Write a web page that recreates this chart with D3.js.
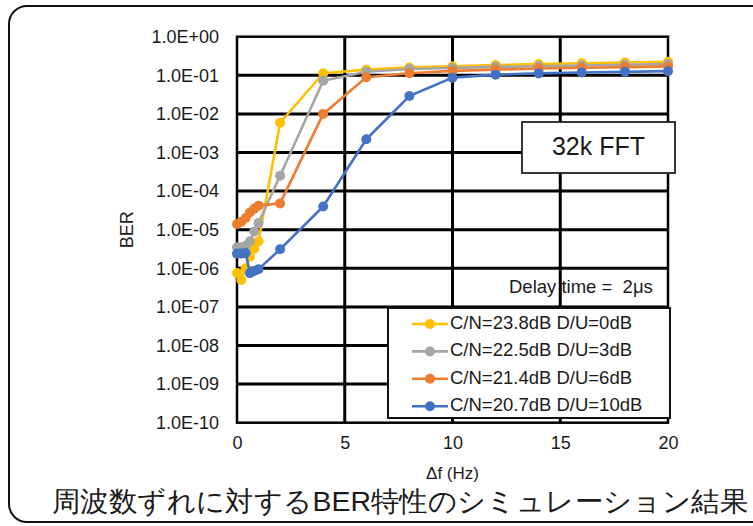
<!DOCTYPE html>
<html>
<head>
<meta charset="utf-8">
<script src="https://cdn.jsdelivr.net/npm/d3@7"></script>
<style>
  html, body { margin: 0; padding: 0; background: #fff; }
  svg { display: block; }
  text { font-family: "Liberation Sans", Arial, sans-serif; fill: #1a1a1a; white-space: pre; }
</style>
</head>
<body>
<svg id="chart" width="753" height="526"></svg>
<script>
// ---- data ----
const deltaF = [0, 0.2, 0.4, 0.6, 0.8, 1, 2, 4, 6, 8, 10, 12, 14, 16, 18, 20];
const berCN238 = [7.5e-7, 5e-7, 1e-6, 2e-6, 3.2e-6, 5e-6, 5.9e-3, 0.113, 0.14, 0.16, 0.172, 0.185, 0.195, 0.205, 0.215, 0.225];
const berCN225 = [3.5e-6, 3.5e-6, 3.8e-6, 5e-6, 9e-6, 1.5e-5, 2.5e-4, 0.072, 0.124, 0.146, 0.155, 0.165, 0.172, 0.18, 0.188, 0.196];
const berCN214 = [1.4e-5, 1.6e-5, 2e-5, 2.8e-5, 3.5e-5, 4.2e-5, 4.8e-5, 1e-2, 0.089, 0.113, 0.13, 0.14, 0.15, 0.157, 0.163, 0.17];
const berCN207 = [2.4e-6, 2.4e-6, 2.5e-6, 7.5e-7, 8.5e-7, 9.5e-7, 3.1e-6, 4e-5, 2.2e-3, 0.029, 0.087, 0.104, 0.112, 0.118, 0.123, 0.128];
const seriesNames = ["C/N=23.8dB D/U=0dB", "C/N=22.5dB D/U=3dB", "C/N=21.4dB D/U=6dB", "C/N=20.7dB D/U=10dB"];
const seriesColors = ["#FFC000", "#A5A5A5", "#ED7D31", "#4472C4"];
const xTicks = [0, 5, 10, 15, 20];
const yTicks = [1e0, 1e-1, 1e-2, 1e-3, 1e-4, 1e-5, 1e-6, 1e-7, 1e-8, 1e-9, 1e-10];
const yTickLabels = ["1.0E+00", "1.0E-01", "1.0E-02", "1.0E-03", "1.0E-04", "1.0E-05", "1.0E-06", "1.0E-07", "1.0E-08", "1.0E-09", "1.0E-10"];
const xLabel = "Δf (Hz)";
const yLabel = "BER";
const fftNote = "32k FFT";
const delayNote = "Delay time =  2μs";
const titleText = "周波数ずれに対するBER特性のシミュレーション結果";

const seriesValues = [berCN238, berCN225, berCN214, berCN207];

// ---- layout ----
const svg = d3.select("#chart");
const plot = { left: 237, right: 668, top: 36.7, bottom: 422.7 };

const x = d3.scaleLinear().domain([0, 20]).range([plot.left, plot.right]);
const y = d3.scaleLog().domain([1e-10, 1]).range([plot.bottom, plot.top]);

// outer rounded frame
svg.append("rect")
  .attr("x", 9).attr("y", 6).attr("width", 780).attr("height", 516)
  .attr("rx", 18).attr("ry", 18)
  .attr("fill", "none").attr("stroke", "#111").attr("stroke-width", 2);

// gridlines
const grid = svg.append("g");
grid.selectAll("line.h").data(yTicks.slice(1, -1)).join("line")
  .attr("x1", plot.left).attr("x2", plot.right)
  .attr("y1", d => y(d)).attr("y2", d => y(d))
  .attr("stroke", "#000").attr("stroke-width", 3);
grid.selectAll("line.v").data(xTicks.slice(1, -1)).join("line")
  .attr("y1", plot.top).attr("y2", plot.bottom)
  .attr("x1", d => x(d)).attr("x2", d => x(d))
  .attr("stroke", "#000").attr("stroke-width", 3);

// plot border
svg.append("rect")
  .attr("x", plot.left).attr("y", plot.top)
  .attr("width", plot.right - plot.left).attr("height", plot.bottom - plot.top)
  .attr("fill", "none").attr("stroke", "#000").attr("stroke-width", 2.5);

// axes (labels only; Excel style has no tick marks)
const yAxis = d3.axisLeft(y).tickValues(yTicks)
  .tickFormat((d, i) => yTickLabels[i]).tickSize(0).tickPadding(0);
const yg = svg.append("g").attr("transform", `translate(${plot.left - 18},0)`).call(yAxis);
yg.select(".domain").remove();
yg.selectAll("text").attr("font-size", 18).attr("fill", "#1a1a1a")
  .attr("font-family", "Liberation Sans, Arial, sans-serif");

const xAxis = d3.axisBottom(x).tickValues(xTicks).tickSize(0).tickPadding(0).tickFormat(d3.format("d"));
const xg = svg.append("g").attr("transform", `translate(0,${plot.bottom + 14})`).call(xAxis);
xg.select(".domain").remove();
xg.selectAll("text").attr("font-size", 18).attr("fill", "#1a1a1a")
  .attr("font-family", "Liberation Sans, Arial, sans-serif");

// axis titles
svg.append("text").attr("x", x(10)).attr("y", 475)
  .attr("text-anchor", "middle").attr("dominant-baseline", "middle")
  .attr("font-size", 17).text(xLabel);
svg.append("text")
  .attr("transform", `translate(128,${y(1e-5)}) rotate(-90)`)
  .attr("text-anchor", "middle").attr("dominant-baseline", "middle")
  .attr("font-size", 18).text(yLabel);

// series
const line = d3.line().x(d => x(d[0])).y(d => y(d[1]));
seriesValues.forEach((vals, i) => {
  const pts = deltaF.map((f, j) => [f, vals[j]]);
  const g = svg.append("g");
  g.append("path").datum(pts).attr("d", line)
    .attr("fill", "none").attr("stroke", seriesColors[i]).attr("stroke-width", 2.6)
    .attr("stroke-linejoin", "round");
  g.selectAll("circle").data(pts).join("circle")
    .attr("cx", d => x(d[0])).attr("cy", d => y(d[1])).attr("r", 5)
    .attr("fill", seriesColors[i]);
});

// 32k FFT box
svg.append("rect").attr("x", 522).attr("y", 122).attr("width", 153).attr("height", 51)
  .attr("fill", "#fff").attr("stroke", "#222").attr("stroke-width", 1.8);
svg.append("text").attr("x", 598.5).attr("y", 148)
  .attr("text-anchor", "middle").attr("dominant-baseline", "middle")
  .attr("font-size", 25).text(fftNote);

// delay note
svg.append("text").attr("x", 509).attr("y", 288)
  .attr("dominant-baseline", "middle").attr("font-size", 18.5).text(delayNote);

// legend
const lg = svg.append("g");
lg.append("rect").attr("x", 388).attr("y", 308).attr("width", 282).attr("height", 110)
  .attr("fill", "#fff").attr("stroke", "#111").attr("stroke-width", 2);
seriesNames.forEach((name, i) => {
  const cy = 324 + i * 27.4;
  lg.append("line").attr("x1", 412).attr("x2", 448).attr("y1", cy).attr("y2", cy)
    .attr("stroke", seriesColors[i]).attr("stroke-width", 2.6);
  lg.append("circle").attr("cx", 430).attr("cy", cy).attr("r", 5).attr("fill", seriesColors[i]);
  lg.append("text").attr("x", 450).attr("y", cy).attr("dominant-baseline", "middle")
    .attr("font-size", 18.5).text(name);
});

// title
svg.append("text").attr("x", 52).attr("y", 504)
  .attr("dominant-baseline", "middle")
  .attr("font-family", "Noto Sans CJK JP, sans-serif")
  .attr("font-size", 28).attr("textLength", 696).attr("lengthAdjust", "spacingAndGlyphs")
  .attr("fill", "#111").text(titleText);
</script>
</body>
</html>
